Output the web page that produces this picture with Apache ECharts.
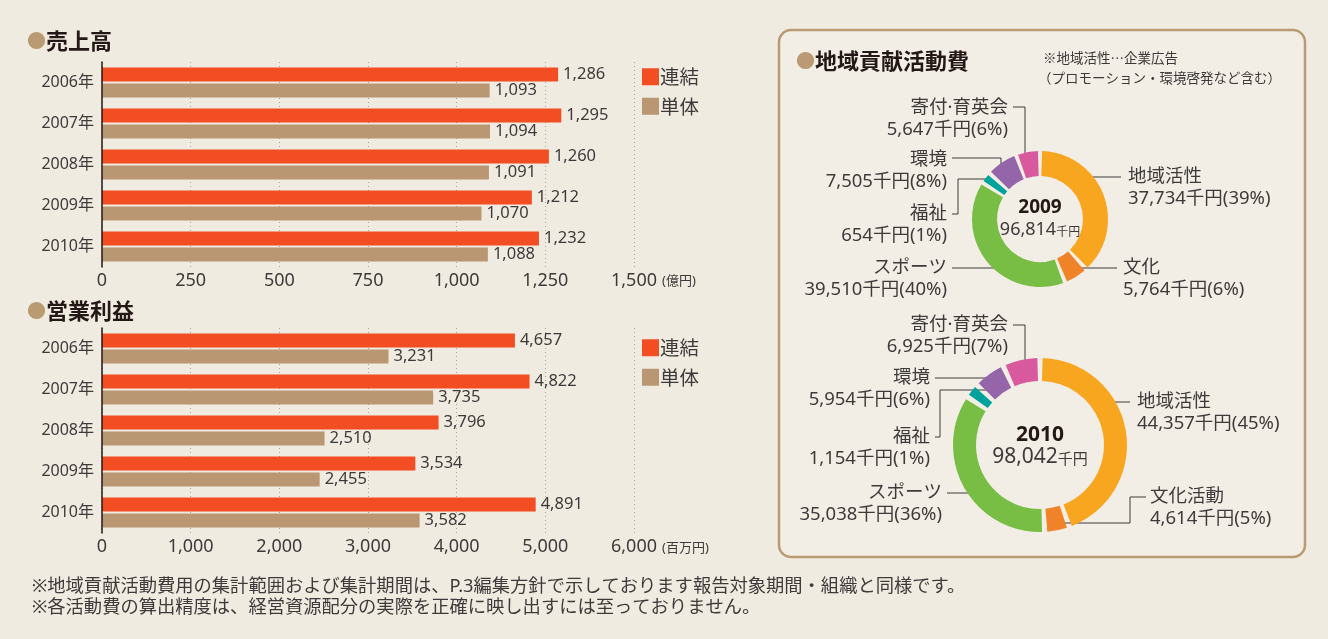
<!DOCTYPE html>
<html lang="ja">
<head>
<meta charset="utf-8">
<title>売上高・営業利益・地域貢献活動費</title>
<script src="https://cdn.jsdelivr.net/npm/echarts@6/dist/echarts.min.js"></script>
<style>
  html, body { margin: 0; padding: 0; background: #f0ebe1; }
  #chart { width: 1328px; height: 639px; }
</style>
</head>
<body>
<div id="chart"></div>
<script>
// 売上高（億円）・営業利益（百万円）
const years = ['2006年', '2007年', '2008年', '2009年', '2010年']
const salesRenketsu = [1286, 1295, 1260, 1212, 1232]
const salesTantai = [1093, 1094, 1091, 1070, 1088]
const profitRenketsu = [4657, 4822, 3796, 3534, 4891]
const profitTantai = [3231, 3735, 2510, 2455, 3582]
const salesTicks = { max: 1500, interval: 250 }
const profitTicks = { max: 6000, interval: 1000 }

// 地域貢献活動費（千円）
const names2009 = ['地域活性', '文化', 'スポーツ', '福祉', '環境', '寄付·育英会']
const values2009 = [37734, 5764, 39510, 654, 7505, 5647]
const pct2009 = [39, 6, 40, 1, 8, 6]
const total2009 = 96814
const names2010 = ['地域活性', '文化活動', 'スポーツ', '福祉', '環境', '寄付·育英会']
const values2010 = [44357, 4614, 35038, 1154, 5954, 6925]
const pct2010 = [45, 5, 36, 1, 6, 7]
const total2010 = 98042

const BG = '#f0ebe1'
const TEXT = '#3e3a39'
const ORANGE = '#f24d23'
const TAN = '#b99772'
const regionColors = ['#f8a51f', '#f08328', '#78be44', '#00a39b', '#9565a9', '#d9599f']
const FONT = '"Noto Sans", "Noto Sans CJK JP", sans-serif'
const CJK = '"Noto Sans CJK JP", sans-serif'

// label placement for the donut annotations (first line centre, leader path)
const labels2009 = [
  { x: 1128, y: 177, align: 'left', line: [[1121, 177], [1088, 177]] },
  { x: 1123, y: 268, align: 'left', line: [[1117, 268], [1070, 268]] },
  { x: 947, y: 268, align: 'right', line: [[952, 268], [1000, 268]] },
  { x: 947, y: 214, align: 'right', line: [[952, 214], [958, 214], [958, 179], [989, 179]] },
  { x: 947, y: 160, align: 'right', line: [[952, 158], [1001, 158], [1001, 166]] },
  { x: 1008, y: 108, align: 'right', line: [[1013, 107], [1025, 107], [1025, 170]] }
]
const labels2010 = [
  { x: 1137, y: 402, align: 'left', line: [[1130, 402], [1108, 402]] },
  { x: 1150, y: 497, align: 'left', line: [[1146, 497], [1130, 497], [1130, 523], [1055, 523]] },
  { x: 942, y: 493, align: 'right', line: [[947, 493], [980, 493]] },
  { x: 930, y: 437, align: 'right', line: [[935, 437], [940, 437], [940, 390], [992, 390]] },
  { x: 930, y: 378, align: 'right', line: [[935, 378], [986, 378]] },
  { x: 1008, y: 325, align: 'right', line: [[1013, 325], [1025, 325], [1025, 362]] }
]

var myChart = echarts.init(document.getElementById('chart'))

function fmt(v) {
  return Number(v).toLocaleString('en-US')
}

function barSeries(name, data, idx, color) {
  return {
    name: name,
    type: 'bar',
    xAxisIndex: idx,
    yAxisIndex: idx,
    data: data,
    barWidth: 14,
    barGap: '14%',
    silent: true,
    itemStyle: { color: color },
    label: {
      show: true,
      position: 'right',
      distance: 5,
      fontSize: 16.5,
      fontFamily: FONT,
      color: TEXT,
      formatter: p => fmt(p.value)
    }
  }
}

function valueAxis(idx, ticks) {
  return {
    gridIndex: idx,
    type: 'value',
    min: 0,
    max: ticks.max,
    interval: ticks.interval,
    axisLine: { show: false },
    axisTick: { show: false },
    splitLine: { lineStyle: { type: [1, 3], color: '#a8a39b', width: 1 } },
    axisLabel: { fontSize: 18, fontFamily: FONT, color: TEXT, margin: 5, formatter: fmt }
  }
}

function categoryAxis(idx) {
  return {
    gridIndex: idx,
    type: 'category',
    data: years,
    inverse: true,
    axisLine: { lineStyle: { color: '#231815', width: 1.5 } },
    axisTick: { show: false },
    axisLabel: { fontSize: 16, fontFamily: FONT, color: TEXT, margin: 8 },
    z: 5
  }
}

function legend(top) {
  return {
    top: top,
    left: 642,
    padding: 0,
    orient: 'vertical',
    icon: 'rect',
    itemWidth: 17,
    itemHeight: 17,
    itemGap: 10,
    selectedMode: false,
    textStyle: { fontSize: 19.5, fontFamily: CJK, color: TEXT, padding: [0, 0, 0, -4] },
    data: ['連結', '単体']
  }
}

function pieSeries(names, values, pct, center, radius, labels) {
  return {
    type: 'pie',
    center: center,
    radius: radius,
    startAngle: 90,
    clockwise: true,
    padAngle: 3.5,
    minAngle: 6.5,
    avoidLabelOverlap: false,
    silent: true,
    data: names.map((n, i) => ({ name: n, value: values[i], itemStyle: { color: regionColors[i] } })),
    label: {
      show: true,
      fontSize: 18.5,
      lineHeight: 22,
      fontFamily: FONT,
      color: TEXT,
      formatter: p => p.name + '\n' + fmt(p.value) + '千円(' + pct[p.dataIndex] + '%)'
    },
    labelLine: { show: true, lineStyle: { color: TEXT, width: 1 } },
    labelLayout: p => {
      const l = labels[p.dataIndex]
      return { x: l.x, y: l.y - 11, align: l.align, verticalAlign: 'top', labelLinePoints: l.line }
    }
  }
}

function sectionTitle(text, left, top) {
  return {
    text: '{d|●}{t|' + text + '}',
    left: left,
    top: top,
    padding: 0,
    textStyle: {
      rich: {
        d: { fontSize: 19, fontFamily: CJK, color: '#b99a73' },
        t: { fontSize: 22, fontFamily: CJK, fontWeight: 'bold', color: '#231815' }
      }
    }
  }
}

function centerText(year, total, cy, yearSize, numSize, unitSize) {
  return [
    {
      type: 'text', x: 1040, y: cy - 11, z: 10,
      style: { text: year, font: 'bold ' + yearSize + 'px ' + FONT, fill: '#231815', align: 'center', verticalAlign: 'middle' }
    },
    {
      type: 'text', x: 1040, y: cy + 11, z: 10,
      style: {
        text: '{n|' + fmt(total) + '}{u|千円}',
        align: 'center',
        verticalAlign: 'middle',
        rich: {
          n: { fontSize: numSize, fontFamily: FONT, fill: TEXT, verticalAlign: 'bottom' },
          u: { fontSize: unitSize, fontFamily: CJK, fill: TEXT, verticalAlign: 'bottom', padding: [0, 0, 2, 0] }
        }
      }
    }
  ]
}

function plainText(text, x, y, size, family) {
  return {
    type: 'text', x: x, y: y, z: 10,
    style: { text: text, font: size + 'px ' + (family || FONT), fill: TEXT, align: 'left', verticalAlign: 'middle' }
  }
}

const option = {
  backgroundColor: BG,
  animation: false,
  title: [
    sectionTitle('売上高', 27, 30),
    sectionTitle('営業利益', 27, 300),
    sectionTitle('地域貢献活動費', 796, 50)
  ],
  legend: [legend(67), legend(338)],
  grid: [
    { left: 102, top: 62, width: 532, height: 205 },
    { left: 102, top: 328, width: 532, height: 205 }
  ],
  xAxis: [valueAxis(0, salesTicks), valueAxis(1, profitTicks)],
  yAxis: [categoryAxis(0), categoryAxis(1)],
  series: [
    barSeries('連結', salesRenketsu, 0, ORANGE),
    barSeries('単体', salesTantai, 0, TAN),
    barSeries('連結', profitRenketsu, 1, ORANGE),
    barSeries('単体', profitTantai, 1, TAN),
    pieSeries(names2009, values2009, pct2009, [1040, 219], [43, 68], labels2009),
    pieSeries(names2010, values2010, pct2010, [1040, 445], [64, 87], labels2010)
  ],
  graphic: [
    {
      type: 'rect', z: -1,
      shape: { x: 779, y: 30, width: 526, height: 527, r: 12 },
      style: { fill: '#f2eee6', stroke: '#b99a73', lineWidth: 2.5 }
    },
    plainText('(億円)', 662, 281, 13),
    plainText('(百万円)', 662, 548, 13),
    plainText('※地域活性…企業広告', 1043, 58, 13.5, CJK),
    plainText('（プロモーション・環境啓発など含む）', 1038, 78, 13.5, CJK),
    ...centerText('2009', total2009, 219, 19, 18, 12),
    ...centerText('2010', total2010, 446, 21, 21, 15),
    plainText('※地域貢献活動費用の集計範囲および集計期間は、P.3編集方針で示しております報告対象期間・組織と同様です。', 32, 587, 18.3),
    plainText('※各活動費の算出精度は、経営資源配分の実際を正確に映し出すには至っておりません。', 32, 608, 18.3)
  ]
}

myChart.setOption(option)
</script>
</body>
</html>
